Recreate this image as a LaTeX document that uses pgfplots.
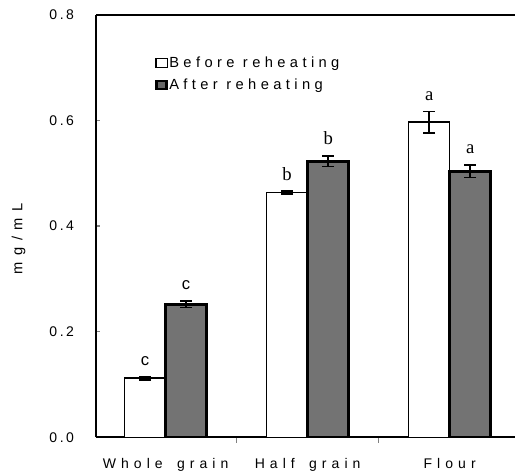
\documentclass[border=0pt]{standalone}
\usepackage{fontspec}
\setmainfont{Liberation Sans}
\newfontfamily\serifl{Liberation Serif}
\newfontfamily\spacedt[LetterSpace=18]{Liberation Sans}
\newfontfamily\spacedx[LetterSpace=36,WordSpace=1.6]{Liberation Sans}
\newfontfamily\spacedl[LetterSpace=30]{Liberation Sans}
\newfontfamily\spacedy[LetterSpace=45]{Liberation Sans}
\newcommand\cs{{\rmfamily\fontsize{12.5}{12.5}\selectfont c}}
\usepackage{pgfplots}
\usepackage{pgfplotstable}
\pgfplotsset{compat=1.18}

\pgfplotstableread{
x y err lab
0 0.112 0.003 \cs
1 0.464 0.003 b
2 0.597 0.020 a
}\before
\pgfplotstableread{
x y err lab
0 0.252 0.006 \cs
1 0.523 0.010 b
2 0.504 0.012 a
}\after

\begin{document}
\begin{tikzpicture}
\begin{axis}[
  scale only axis, width=314pt, height=316.5pt,
  xmin=-0.49, xmax=2.46, ymin=0, ymax=0.8,
  axis x line*=box, axis y line*=left,
  axis line style={line width=1.2pt},
  xtick={0,1,2}, xticklabels={Whole grain, Half grain, Flour},
  minor xtick={0.5,1.5},
  major x tick style={draw=none},
  minor tick length=4pt,
  minor x tick style={line width=1pt},
  xtick pos=left, ytick pos=left,
  ytick={0,0.2,0.4,0.6,0.8},
  tick align=inside, major tick length=3pt,
  ytick style={line width=1pt},
  /pgf/number format/.cd, fixed, fixed zerofill, precision=1, assume math mode=true,
  /pgfplots/.cd,
  yticklabel style={font=\spacedt\fontsize{10.5}{11}\selectfont, xshift=-13pt},
  xticklabel style={font=\spacedx\fontsize{10.5}{11}\selectfont, yshift=-9pt},
  ylabel={mg/mL},
  ylabel style={font=\spacedy\fontsize{11}{11}\selectfont, at={(rel axis cs:0,0.47)}, yshift=58pt, anchor=center},
  ybar=0pt, bar width=30.75pt,
  legend style={at={(rel axis cs:0.141,0.905)}, anchor=north west, draw=none, fill=none,
    font=\spacedl\fontsize{11}{12}\selectfont, row sep=5pt, inner sep=0pt,
    nodes={inner sep=1pt}},
  legend cell align=left,
  nodes near coords,
  point meta=explicit symbolic,
  visualization depends on={\thisrow{err} \as \myerr},
  every node near coord/.append style={shift={(axis direction cs:0,\myerr)}, yshift=4pt,
    font=\serifl\fontsize{14}{14}\selectfont, anchor=south, text=black},
]
\addplot[draw=black, fill=white, line width=1pt,
  legend image code/.code={\draw[black, fill=white, line width=0.9pt] (-2pt,-3.6pt) rectangle (6.5pt,3.6pt);},
  error bars/.cd, y dir=both, y explicit,
  error bar style={line width=1.2pt, black},
  error mark options={rotate=90, mark size=4.5pt, line width=1.2pt, black}]
  table[x=x, y=y, y error=err, meta=lab] {\before};
\addlegendentry{Before reheating}
\addplot[draw=black, fill=black!55, line width=2pt,
  legend image code/.code={\draw[black, fill=black!60, line width=1.8pt] (-1.5pt,-3.2pt) rectangle (6pt,3.2pt);},
  error bars/.cd, y dir=both, y explicit,
  error bar style={line width=1.2pt, black},
  error mark options={rotate=90, mark size=4.5pt, line width=1.2pt, black}]
  table[x=x, y=y, y error=err, meta=lab] {\after};
\addlegendentry{After reheating}
\coordinate (SW) at (rel axis cs:0,0);
\coordinate (NE) at (rel axis cs:1,1);
\end{axis}
\pgfresetboundingbox
\path[use as bounding box] ([shift={(-72pt,-27pt)}]SW) rectangle ([shift={(0pt,11.25pt)}]NE);
\end{tikzpicture}
\end{document}
